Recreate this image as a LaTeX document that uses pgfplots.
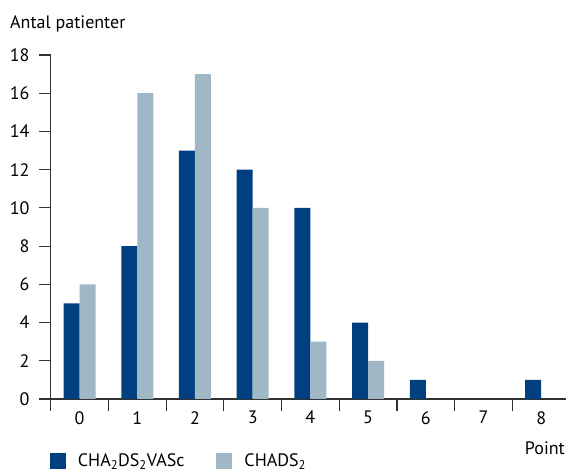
\documentclass[border=0pt]{standalone}
\usepackage{fontspec}
\setmainfont{PT Sans}
\usepackage{pgfplots}
\pgfplotsset{compat=1.18}
\definecolor{darkb}{RGB}{0,64,128}
\definecolor{lightb}{RGB}{160,184,198}
\definecolor{axc}{RGB}{50,50,50}
\begin{document}
\fontsize{18}{21}\selectfont
\begin{tikzpicture}
\useasboundingbox (-50.7pt,-72pt) rectangle (515.3pt,399pt);
\begin{axis}[
  at={(0,0)}, anchor=south west,
  scale only axis, width=515.3pt, height=344pt,
  xmin=-0.5, xmax=8.43, ymin=0, ymax=18,
  ybar=0pt, bar width=16pt,
  axis x line=bottom, axis y line=left,
  axis line style={axc, line width=1.2pt, -},
  xtick={-0.5,0.5,...,7.5}, xticklabels={},
  extra x ticks={0,1,...,8}, extra x tick labels={0,1,2,3,4,5,6,7,8},
  extra x tick style={major tick length=0pt, xticklabel style={yshift=-6pt}},
  ytick={0,2,...,18},
  major tick length=12pt, tick align=outside,
  tick style={axc,line width=1.2pt},
  /pgf/number format/assume math mode=true,
  ticklabel style={font=\fontsize{18}{21}\selectfont},
  yticklabel style={xshift=-3pt},
  clip=false,
  legend style={at={(0,0)}, anchor=west, xshift=-4pt, yshift=-62pt, draw=none, fill=none,
    font=\fontsize{18}{21}\selectfont, legend columns=2,
    /tikz/every odd column/.append style={column sep=10pt},
    /tikz/every even column/.append style={column sep=30pt}},
  legend image code/.code={\fill[#1] (0pt,-8pt) rectangle (16pt,8pt);},
]
\addplot[fill=darkb, draw=none] coordinates {(0,5) (1,8) (2,13) (3,12) (4,10) (5,4) (6,1) (7,0) (8,1)};
\addplot[fill=lightb, draw=none] coordinates {(0,6) (1,16) (2,17) (3,10) (4,3) (5,2)};
\legend{CHA\textsubscript{2}DS\textsubscript{2}VASc, CHADS\textsubscript{2}}
\node[anchor=base west, inner sep=0pt] at (rel axis cs:0,1) [xshift=-40.7pt, yshift=26pt] {Antal patienter};
\node[anchor=base east, inner sep=0pt] at (rel axis cs:0,0) [xshift=514.3pt, yshift=-56pt] {Point};
\end{axis}
\end{tikzpicture}
\end{document}
